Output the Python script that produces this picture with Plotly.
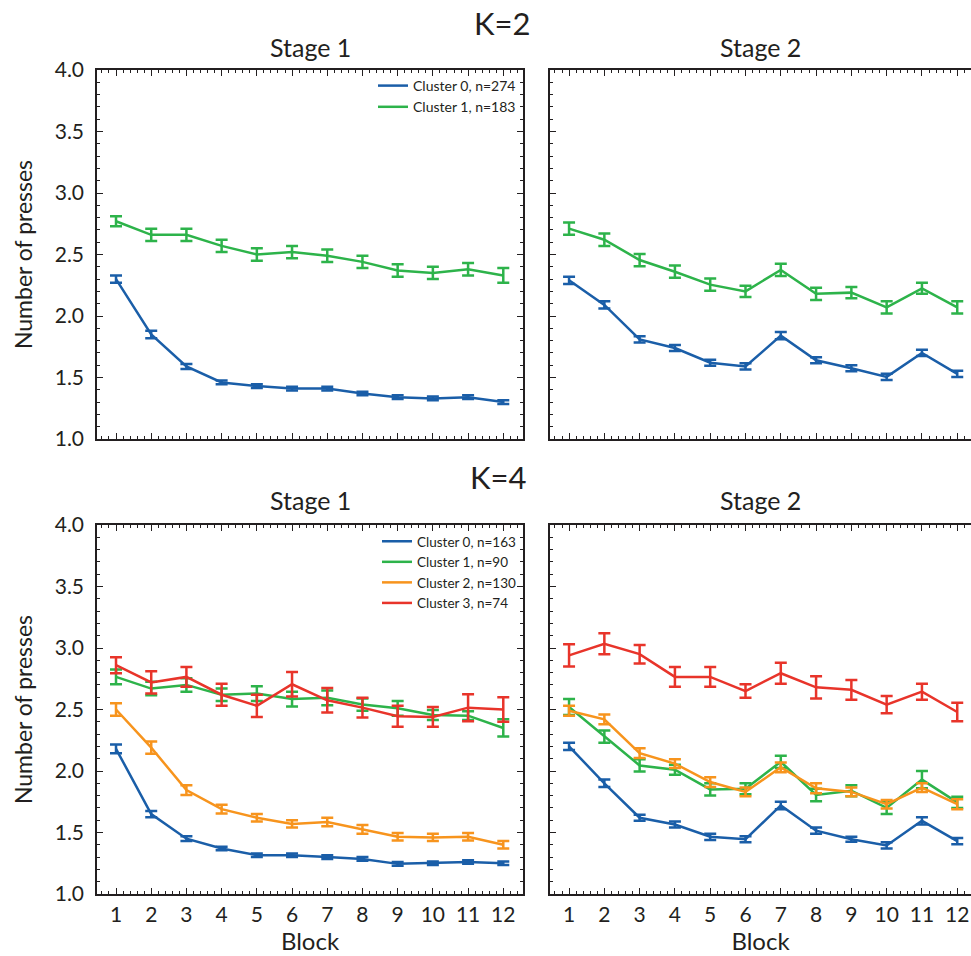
import plotly.graph_objects as go

blocks = list(range(1, 13))

# K=2, Stage 1
k2s1_c0 = [2.30, 1.85, 1.59, 1.46, 1.43, 1.41, 1.41, 1.37, 1.34, 1.33, 1.34, 1.30]
k2s1_c0_err = [0.03, 0.03, 0.02, 0.015, 0.015, 0.015, 0.015, 0.015, 0.015, 0.015, 0.015, 0.015]
k2s1_c1 = [2.77, 2.66, 2.66, 2.57, 2.50, 2.52, 2.49, 2.44, 2.37, 2.35, 2.38, 2.33]
k2s1_c1_err = [0.04, 0.05, 0.05, 0.05, 0.05, 0.05, 0.05, 0.05, 0.05, 0.05, 0.05, 0.06]

# K=2, Stage 2
k2s2_c0 = [2.29, 2.09, 1.81, 1.74, 1.62, 1.59, 1.84, 1.64, 1.575, 1.505, 1.70, 1.53]
k2s2_c0_err = [0.03, 0.03, 0.025, 0.025, 0.025, 0.025, 0.03, 0.025, 0.025, 0.025, 0.025, 0.025]
k2s2_c1 = [2.71, 2.62, 2.455, 2.36, 2.255, 2.20, 2.375, 2.18, 2.19, 2.07, 2.225, 2.07]
k2s2_c1_err = [0.05, 0.05, 0.05, 0.05, 0.05, 0.045, 0.05, 0.05, 0.045, 0.05, 0.045, 0.05]

# K=4, Stage 1
k4s1_c0 = [2.18, 1.65, 1.45, 1.37, 1.315, 1.315, 1.30, 1.285, 1.245, 1.25, 1.26, 1.25]
k4s1_c0_err = [0.035, 0.025, 0.02, 0.015, 0.015, 0.015, 0.015, 0.015, 0.015, 0.015, 0.015, 0.015]
k4s1_c1 = [2.765, 2.67, 2.70, 2.62, 2.63, 2.585, 2.595, 2.54, 2.51, 2.455, 2.45, 2.35]
k4s1_c1_err = [0.06, 0.055, 0.055, 0.05, 0.06, 0.06, 0.06, 0.05, 0.06, 0.04, 0.035, 0.07]
k4s1_c2 = [2.50, 2.19, 1.845, 1.69, 1.62, 1.57, 1.585, 1.525, 1.465, 1.46, 1.465, 1.40]
k4s1_c2_err = [0.05, 0.05, 0.04, 0.035, 0.03, 0.03, 0.035, 0.035, 0.03, 0.03, 0.03, 0.03]
k4s1_c3 = [2.86, 2.72, 2.765, 2.62, 2.53, 2.705, 2.575, 2.515, 2.445, 2.44, 2.515, 2.50]
k4s1_c3_err = [0.065, 0.09, 0.08, 0.09, 0.09, 0.10, 0.10, 0.08, 0.085, 0.08, 0.11, 0.10]

# K=4, Stage 2
k4s2_c0 = [2.20, 1.90, 1.62, 1.565, 1.465, 1.445, 1.72, 1.515, 1.445, 1.395, 1.595, 1.43]
k4s2_c0_err = [0.03, 0.03, 0.025, 0.025, 0.025, 0.025, 0.03, 0.025, 0.02, 0.025, 0.03, 0.025]
k4s2_c1 = [2.52, 2.28, 2.045, 2.01, 1.85, 1.855, 2.075, 1.805, 1.84, 1.70, 1.93, 1.745]
k4s2_c1_err = [0.065, 0.05, 0.05, 0.04, 0.05, 0.045, 0.05, 0.05, 0.045, 0.05, 0.07, 0.045]
k4s2_c2 = [2.49, 2.42, 2.145, 2.06, 1.91, 1.83, 2.03, 1.86, 1.83, 1.73, 1.865, 1.73]
k4s2_c2_err = [0.04, 0.04, 0.04, 0.035, 0.04, 0.035, 0.04, 0.04, 0.035, 0.035, 0.035, 0.04]
k4s2_c3 = [2.94, 3.035, 2.95, 2.765, 2.765, 2.65, 2.795, 2.68, 2.66, 2.54, 2.645, 2.48]
k4s2_c3_err = [0.09, 0.085, 0.075, 0.08, 0.08, 0.055, 0.085, 0.09, 0.08, 0.07, 0.065, 0.075]

k2_names = ["Cluster 0, n=274", "Cluster 1, n=183"]
k4_names = ["Cluster 0, n=163", "Cluster 1, n=90", "Cluster 2, n=130", "Cluster 3, n=74"]

y_tickvals = [1.0, 1.5, 2.0, 2.5, 3.0, 3.5, 4.0]
y_ticktext = ["1.0", "1.5", "2.0", "2.5", "3.0", "3.5", "4.0"]
x_tickvals = blocks
x_ticktext = [str(b) for b in blocks]

colors = ["#1a5ea8", "#2db34a", "#f7941d", "#e8342a"]
FONT = "Lato, Open Sans, sans-serif"
TXT = "#231f20"
W, H = 971, 956

fig = go.Figure()

panels = [
    ("x", "y", [k2s1_c0, k2s1_c1], [k2s1_c0_err, k2s1_c1_err], k2_names, "legend", True),
    ("x2", "y2", [k2s2_c0, k2s2_c1], [k2s2_c0_err, k2s2_c1_err], k2_names, "legend", False),
    ("x3", "y3", [k4s1_c0, k4s1_c1, k4s1_c2, k4s1_c3],
     [k4s1_c0_err, k4s1_c1_err, k4s1_c2_err, k4s1_c3_err], k4_names, "legend2", True),
    ("x4", "y4", [k4s2_c0, k4s2_c1, k4s2_c2, k4s2_c3],
     [k4s2_c0_err, k4s2_c1_err, k4s2_c2_err, k4s2_c3_err], k4_names, "legend2", False),
]

for xa, ya, ys, errs, names, leg, show in panels:
    for i, (yv, ev) in enumerate(zip(ys, errs)):
        fig.add_trace(go.Scatter(
            x=blocks, y=yv, xaxis=xa, yaxis=ya, mode="lines",
            name=names[i], legend=leg, showlegend=show,
            line=dict(color=colors[i], width=2.5),
            error_y=dict(type="data", array=ev, visible=True, color=colors[i],
                         thickness=2.5, width=6),
        ))

def px_x(p):
    return p / W

def px_y(p):
    return 1 - p / H

left_dom = [px_x(97), px_x(523)]
right_dom = [px_x(550), 1.0]
top_dom = [px_y(439), px_y(70)]
bot_dom = [px_y(894), px_y(525)]

common_axis = dict(
    showline=True, linecolor="#231f20", linewidth=1.5,
    ticks="inside", ticklen=6, tickwidth=1.2, tickcolor="#231f20",
    showgrid=False, zeroline=False, automargin=False,
    tickfont=dict(family=FONT, size=21, color=TXT),
)

def xaxis(dom, rng, labels, anchor):
    d = dict(common_axis)
    d.update(domain=dom, range=rng, anchor=anchor, mirror="ticks",
             tickvals=x_tickvals, ticktext=x_ticktext, showticklabels=labels,
             ticklabelstandoff=1,
             minor=dict(dtick=0.2, tick0=0, ticks="inside", ticklen=3,
                        tickwidth=1, tickcolor="#231f20", showgrid=False))
    if labels:
        d.update(title=dict(text="Block", font=dict(family=FONT, size=24, color=TXT),
                            standoff=4))
    return d

def yaxis(dom, labels, anchor, mirror):
    d = dict(common_axis)
    d.update(domain=dom, range=[1.0, 4.0], anchor=anchor,
             mirror="ticks" if mirror else False,
             tickvals=y_tickvals, ticktext=y_ticktext, showticklabels=labels,
             ticklabelstandoff=7,
             minor=dict(dtick=0.1, tick0=0, ticks="inside", ticklen=3,
                        tickwidth=1, tickcolor="#231f20", showgrid=False))
    if labels:
        d.update(title=dict(text="Number of presses",
                            font=dict(family=FONT, size=23, color=TXT), standoff=16))
    return d

fig.update_layout(
    width=W, height=H,
    margin=dict(l=0, r=0, t=0, b=0, autoexpand=False),
    paper_bgcolor="white", plot_bgcolor="white",
    font=dict(family=FONT, color=TXT),
    xaxis=xaxis(left_dom, [0.46, 12.56], False, "y"),
    yaxis=yaxis(top_dom, True, "x", True),
    xaxis2=xaxis(right_dom, [0.46, 12.39], False, "y2"),
    yaxis2=yaxis(top_dom, False, "x2", False),
    xaxis3=xaxis(left_dom, [0.46, 12.56], True, "y3"),
    yaxis3=yaxis(bot_dom, True, "x3", True),
    xaxis4=xaxis(right_dom, [0.46, 12.39], True, "y4"),
    yaxis4=yaxis(bot_dom, False, "x4", False),
    legend=dict(x=px_x(521), y=px_y(70), xanchor="right", yanchor="top",
                bgcolor="rgba(0,0,0,0)", font=dict(family=FONT, size=14, color=TXT),
                tracegroupgap=0, itemwidth=30),
    legend2=dict(x=px_x(521), y=px_y(526), xanchor="right", yanchor="top",
                 bgcolor="rgba(0,0,0,0)", font=dict(family=FONT, size=13.5, color=TXT),
                 tracegroupgap=0, itemwidth=30),
    showlegend=True,
)

annos = [
    ("K=2", 502, 23, 31),
    ("Stage 1", 310, 47, 25),
    ("Stage 2", 760, 47, 25),
    ("K=4", 498, 477, 31),
    ("Stage 1", 310, 500, 25),
    ("Stage 2", 760, 500, 25),
]
for text, x, y, s in annos:
    fig.add_annotation(text=text, x=px_x(x), y=px_y(y), xref="paper", yref="paper",
                       showarrow=False, xanchor="center", yanchor="middle",
                       font=dict(family=FONT, size=s, color=TXT))

fig.write_html(
    "out.html",
    config={"displayModeBar": False},
    post_script="document.body.style.margin='0';document.body.style.overflow='hidden';",
)
